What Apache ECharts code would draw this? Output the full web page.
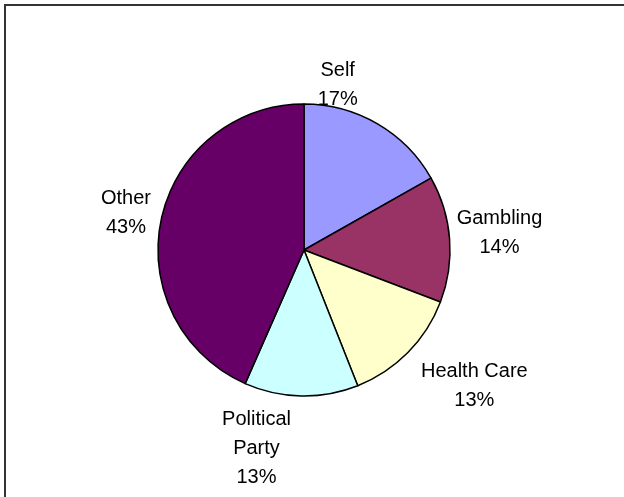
<!DOCTYPE html>
<html>
<head>
<meta charset="utf-8">
<script src="https://cdn.jsdelivr.net/npm/echarts@6/dist/echarts.min.js"></script>
<style>
html,body{margin:0;padding:0;background:#fff;}
#chart{width:624px;height:497px;}
</style>
</head>
<body>
<div id="chart"></div>
<script>
var categories = ['Self', 'Gambling', 'Health Care', 'Political\nParty', 'Other'];
var values = [16.8, 14.0, 13.2, 12.6, 43.4];
var colors = ['#9999FF', '#993366', '#FFFFCC', '#CCFFFF', '#660066'];

// label style tweaks (relative nudges from the radial anchor)
var labelNudge = [[-60, -4], [10, -3], [38, 5], [-44, 13], [4, 1]];

var CX = 304, CY = 250, R = 146, LABEL_GAP = 40;
var total = values.reduce(function (a, b) { return a + b; }, 0);
var mids = [];
(function () {
  var acc = 0;
  values.forEach(function (v) {
    mids.push((acc + v / 2) / total * Math.PI * 2);
    acc += v;
  });
})();

var chart = echarts.init(document.getElementById('chart'));
chart.setOption({
  animation: false,
  graphic: [{
    type: 'rect',
    shape: { x: 5, y: 5, width: 700, height: 700 },
    style: { fill: 'none', stroke: '#333333', lineWidth: 2 },
    silent: true
  }],
  series: [{
    type: 'pie',
    center: [CX, CY],
    radius: R,
    startAngle: 90,
    clockwise: true,
    data: categories.map(function (c, i) {
      return { name: c, value: values[i], itemStyle: { color: colors[i] } };
    }),
    itemStyle: { borderColor: '#000', borderWidth: 1.5 },
    label: {
      show: true,
      position: 'outside',
      fontFamily: 'Liberation Sans, Arial, sans-serif',
      fontSize: 20,
      lineHeight: 29,
      color: '#000',
      align: 'center',
      formatter: function (p) { return p.name + '\n' + Math.round(p.percent) + '%'; }
    },
    labelLine: { show: false },
    labelLayout: function (p) {
      var i = p.dataIndex;
      var a = mids[i];
      var d = R + LABEL_GAP;
      return {
        x: CX + d * Math.sin(a) + labelNudge[i][0],
        y: CY - d * Math.cos(a) + labelNudge[i][1],
        align: 'center',
        verticalAlign: 'middle'
      };
    },
    emphasis: { disabled: true }
  }]
});
</script>
</body>
</html>
